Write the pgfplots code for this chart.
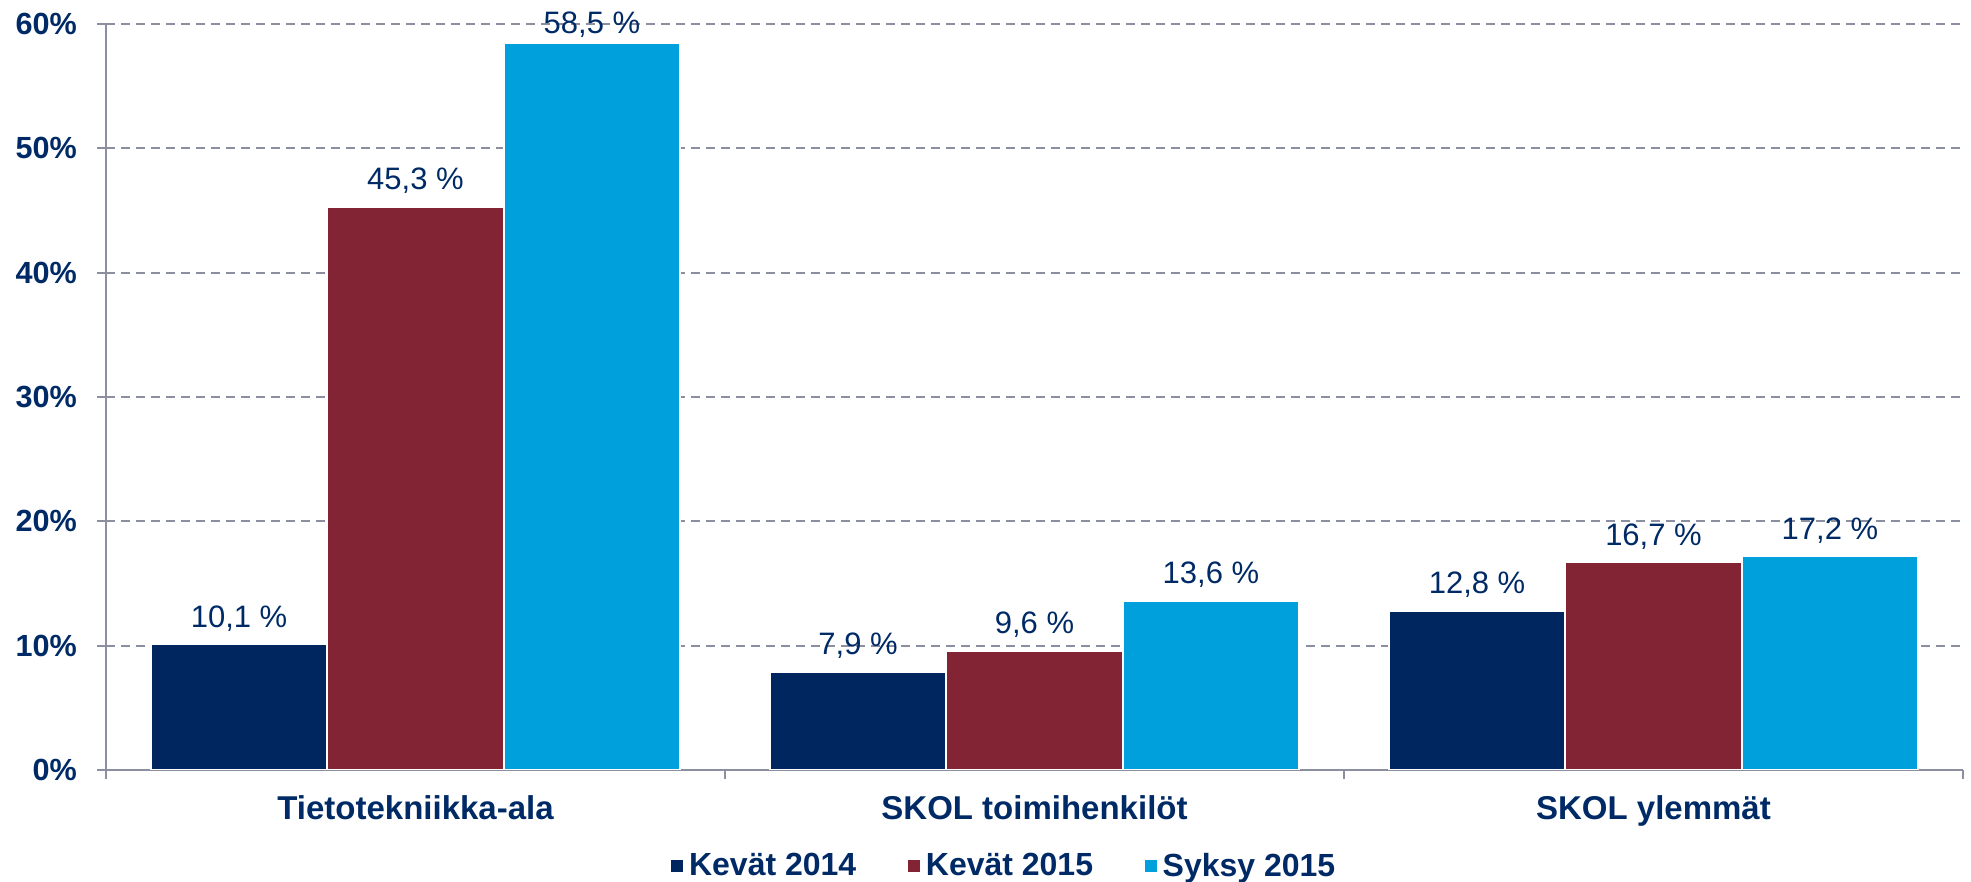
\documentclass[border=0pt]{standalone}
\usepackage{pgfplots}
\pgfplotsset{compat=1.18}
\usepackage{fontspec}
\setmainfont{Liberation Sans}
\definecolor{cnavy}{RGB}{0,38,96}
\definecolor{cmaroon}{RGB}{130,36,51}
\definecolor{ccyan}{RGB}{0,160,220}
\definecolor{ctext}{RGB}{0,42,102}
\definecolor{cgrid}{RGB}{140,143,160}
\begin{document}
\begin{tikzpicture}
\begin{axis}[
  width=928.5pt, height=373pt, scale only axis,
  xmin=-0.5, xmax=2.5, ymin=0, ymax=60,
  ybar=0pt, bar width=0.285,
  axis x line*=bottom, axis y line*=left,
  axis line style={draw=cgrid, line width=1pt, -},
  tick align=outside, major tick length=4.5pt,
  tick style={draw=cgrid, line width=1pt},
  /pgf/number format/assume math mode=true,
  ytick={0,10,20,30,40,50,60},
  yticklabel={\pgfmathprintnumber{\tick}\%},
  yticklabel style={font=\fontsize{15.3}{18}\selectfont\bfseries, text=ctext, xshift=-6.5pt},
  ymajorgrids,
  y grid style={draw=cgrid, line width=0.9pt, dash pattern=on 4.5pt off 3pt},
  xtick={-0.5,0.5,1.5,2.5},
  xticklabels={},
  extra x ticks={0,1,2},
  extra x tick labels={Tietotekniikka-ala, SKOL toimihenkilöt, SKOL ylemmät},
  extra x tick style={major tick length=0pt,
     tick label style={font=\fontsize{16.5}{19}\selectfont\bfseries, text=ctext, yshift=-9.5pt}},
  visualization depends on={rawy \as \yval},
  nodes near coords={\pgfmathprintnumber[fixed,fixed zerofill,precision=1,use comma]{\pgfplotspointmeta}~\%},
  every node near coord/.append style={font=\fontsize{15.5}{18}\selectfont, text=ctext, anchor=base, yshift={ifthenelse(\yval>50,4.5,8.5)}, inner sep=0pt},
  legend style={at={(0.4838,-0.1287)}, anchor=center, draw=none,
     font=\fontsize{16}{19}\selectfont\bfseries, text=ctext,
     /tikz/every even column/.append style={column sep=23pt},
     inner sep=0pt},
  legend columns=-1,
  legend image code/.code={\fill[#1] (-2pt,-3.4pt) rectangle (4.8pt,3.4pt);},
]
\addplot[fill=cnavy, draw=white, line width=1pt] coordinates {(0,10.1) (1,7.9) (2,12.8)};
\addplot[fill=cmaroon, draw=white, line width=1pt] coordinates {(0,45.3) (1,9.6) (2,16.7)};
\addplot[fill=ccyan, draw=white, line width=1pt] coordinates {(0,58.5) (1,13.6) (2,17.2)};
\legend{Kevät 2014, Kevät 2015, Syksy 2015}
\end{axis}
\pgfresetboundingbox
\useasboundingbox (-53pt,-56pt) rectangle (932.5pt,385pt);
\end{tikzpicture}
\end{document}
